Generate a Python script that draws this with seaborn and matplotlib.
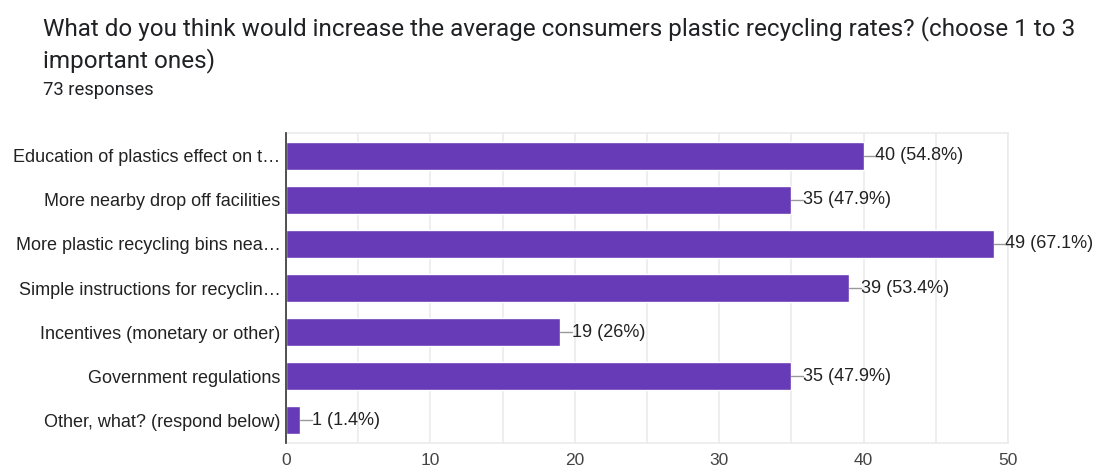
import matplotlib.pyplot as plt
import seaborn as sns
import pandas as pd

# data
options = ["Education of plastics effect on t\u2026",
           "More nearby drop off facilities",
           "More plastic recycling bins nea\u2026",
           "Simple instructions for recyclin\u2026",
           "Incentives (monetary or other)",
           "Government regulations",
           "Other, what? (respond below)"]
counts = [40, 35, 49, 39, 19, 35, 1]
percents = ["54.8%", "47.9%", "67.1%", "53.4%", "26%", "47.9%", "1.4%"]
x_ticks = [0, 10, 20, 30, 40, 50]

df = pd.DataFrame({"option": options, "count": counts})

sns.set_style("white")
plt.rcParams['font.family'] = ['Liberation Sans', 'DejaVu Sans']

fig = plt.figure(figsize=(11.12, 4.72), dpi=100)
ax = fig.add_axes([0.2572, 0.0614, 0.6493, 0.6568])

sns.barplot(data=df, y="option", x="count", color="#673ab7", saturation=1,
            width=0.62, orient="h", ax=ax, zorder=3)

ax.set_xlim(0, 50)
ax.set_ylim(6.52, -0.52)
ax.set_xticks(x_ticks)
ax.set_xticks(range(0, 51, 5), minor=True)
ax.grid(axis="x", which="both", color="#ebebeb", linewidth=1.2, zorder=0)
ax.tick_params(axis="x", which="both", length=0, labelsize=12.5, colors="#444444", pad=7)
ax.tick_params(axis="y", length=0, labelsize=13, colors="#222222", pad=4)
ax.set_xlabel("")
ax.set_ylabel("")

for s in ["top", "right", "bottom"]:
    ax.spines[s].set_color("#ebebeb")
    ax.spines[s].set_linewidth(1.2)
ax.spines["left"].set_color("#333333")
ax.spines["left"].set_linewidth(1.2)
ax.spines["left"].set_zorder(5)

for i, (c, p) in enumerate(zip(counts, percents)):
    ax.plot([c, c + 0.8], [i, i], color="#999999", linewidth=1, zorder=4, clip_on=False)
    ax.text(c + 0.8, i, f"{c} ({p})", va="center", ha="left",
            fontsize=13, color="#222222")

fig.text(0.0387, 0.94, "What do you think would increase the average consumers plastic recycling rates? (choose 1 to 3",
         fontsize=17.5, color="#202124", family=["Roboto", "DejaVu Sans"], va="center")
fig.text(0.0387, 0.872, "important ones)",
         fontsize=17.5, color="#202124", family=["Roboto", "DejaVu Sans"], va="center")
fig.text(0.0387, 0.81, "73 responses",
         fontsize=13.2, color="#202124", family=["Roboto", "DejaVu Sans"], va="center")

fig.savefig("out.png", dpi=100, facecolor="white")
